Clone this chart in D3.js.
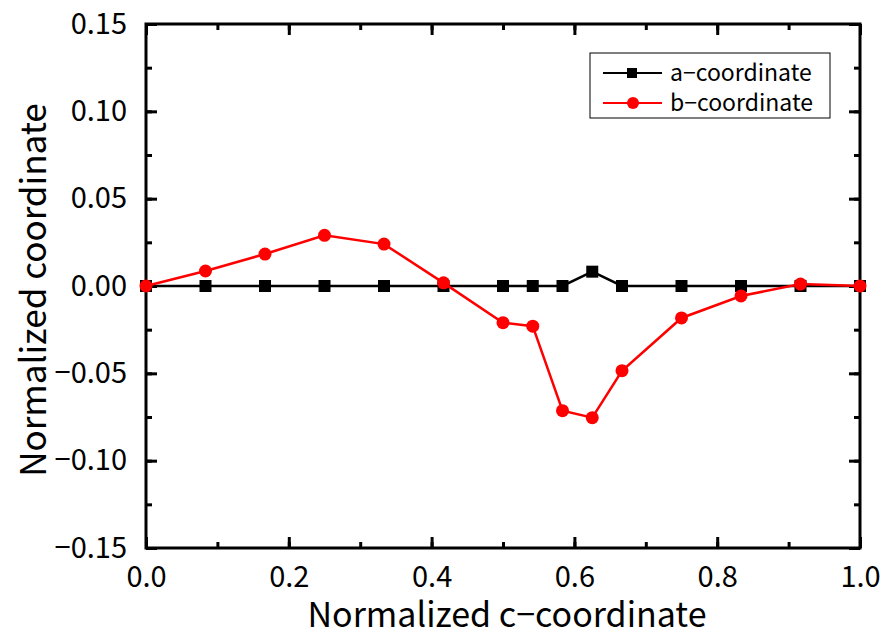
<!DOCTYPE html>
<html>
<head>
<meta charset="utf-8">
<script src="https://cdn.jsdelivr.net/npm/d3@7"></script>
<style>
  body { margin: 0; background: #fff; }
  text { font-family: "Noto Sans CJK JP", "Liberation Sans", sans-serif; fill: #000; }
</style>
</head>
<body>
<script>
// x positions (normalized c-coordinate)
var xVals = [0, 1/12, 2/12, 3/12, 4/12, 5/12, 6/12, 6.5/12, 7/12, 7.5/12, 8/12, 9/12, 10/12, 11/12, 1];
// a-coordinate (black squares)
var aVals = [0, 0, 0, 0, 0, 0, 0, 0, 0, 0.0082, 0, 0, 0, 0, 0];
// b-coordinate (red circles)
var bVals = [0, 0.0086, 0.0183, 0.029, 0.024, 0.0018, -0.021, -0.023, -0.0714, -0.0754, -0.0485, -0.0183, -0.0057, 0.0011, 0];
var seriesNames = ["a\u2212coordinate", "b\u2212coordinate"];
var xTicks = [0, 0.2, 0.4, 0.6, 0.8, 1.0];
var yTicks = [-0.15, -0.10, -0.05, 0, 0.05, 0.10, 0.15];

var width = 887, height = 637;
var margin = {left:146, right:27, top:24, bottom:89};
var w = width - margin.left - margin.right;
var h = height - margin.top - margin.bottom;

var x = d3.scaleLinear().domain([0,1]).range([0,w]);
var y = d3.scaleLinear().domain([-0.15,0.15]).range([h,0]);

var svg = d3.select("body").append("svg")
    .attr("width", width).attr("height", height);

var g = svg.append("g")
    .attr("transform","translate("+margin.left+","+margin.top+")");

var fmt = function(d){ return d3.format(".2f")(d).replace("-", "\u2212"); };

// minor + major ticks, pointing inward on all four sides
function tickAxes(){
  var xMinor = d3.range(0, 1.0001, 0.1);
  var yMinor = d3.range(-0.15, 0.1501, 0.025);
  g.append("g").attr("transform","translate(0,"+h+")")
    .call(d3.axisBottom(x).tickValues(xMinor).tickSize(-6).tickFormat(""));
  g.append("g")
    .call(d3.axisTop(x).tickValues(xMinor).tickSize(-6).tickFormat(""));
  g.append("g")
    .call(d3.axisLeft(y).tickValues(yMinor).tickSize(-6).tickFormat(""));
  g.append("g").attr("transform","translate("+w+",0)")
    .call(d3.axisRight(y).tickValues(yMinor).tickSize(-6).tickFormat(""));

  g.append("g").attr("class","xlab").attr("transform","translate(0,"+h+")")
    .call(d3.axisBottom(x).tickValues(xTicks).tickSize(-11).tickPadding(18).tickFormat(d3.format(".1f")));
  g.append("g")
    .call(d3.axisTop(x).tickValues(xTicks).tickSize(-11).tickFormat(""));
  g.append("g").attr("class","ylab")
    .call(d3.axisLeft(y).tickValues(yTicks).tickSize(-11).tickPadding(19).tickFormat(fmt));
  g.append("g").attr("transform","translate("+w+",0)")
    .call(d3.axisRight(y).tickValues(yTicks).tickSize(-11).tickFormat(""));
}
tickAxes();

g.selectAll(".domain").remove();
g.selectAll(".tick line").attr("stroke","#000").attr("stroke-width",3);
g.selectAll(".xlab text, .ylab text").style("font-size","29px");

// frame
g.append("rect").attr("width", w).attr("height", h)
  .attr("fill","none").attr("stroke","#000").attr("stroke-width",3);

// lines
var aLine = d3.line().x(function(d,i){ return x(xVals[i]); }).y(function(d){ return y(d); });

g.append("path").attr("d", aLine(aVals))
  .attr("fill","none").attr("stroke","#000").attr("stroke-width",2.5);
g.selectAll(".sq").data(aVals).enter().append("rect")
  .attr("x", function(d,i){ return x(xVals[i]) - 6; })
  .attr("y", function(d){ return y(d) - 6; })
  .attr("width",12).attr("height",12).attr("fill","#000");

g.append("path").attr("d", aLine(bVals))
  .attr("fill","none").attr("stroke","#ff0000").attr("stroke-width",2.5);
g.selectAll(".ci").data(bVals).enter().append("circle")
  .attr("cx", function(d,i){ return x(xVals[i]); })
  .attr("cy", function(d){ return y(d); })
  .attr("r",6.5).attr("fill","#ff0000");

// axis titles
svg.append("text")
  .attr("x", margin.left + w/2 + 4).attr("y", 627)
  .attr("text-anchor","middle").style("font-size","34px")
  .text("Normalized c\u2212coordinate");
svg.append("text")
  .attr("transform","translate(46,"+(margin.top + h/2 + 4)+") rotate(-90)")
  .attr("text-anchor","middle").style("font-size","35px")
  .text("Normalized coordinate");

// legend
var leg = svg.append("g").attr("transform","translate(590,53)");
leg.append("rect").attr("width",240).attr("height",65)
  .attr("fill","#fff").attr("stroke","#000").attr("stroke-width",1);
var colors = ["#000","#ff0000"];
seriesNames.forEach(function(name,i){
  var yy = 20 + i*30;
  leg.append("line").attr("x1",13).attr("x2",72).attr("y1",yy).attr("y2",yy)
    .attr("stroke",colors[i]).attr("stroke-width",2);
  if(i==0){
    leg.append("rect").attr("x",37).attr("y",yy-5).attr("width",10).attr("height",10).attr("fill","#000");
  } else {
    leg.append("circle").attr("cx",43).attr("cy",yy).attr("r",6).attr("fill","#ff0000");
  }
  leg.append("text").attr("x",80).attr("y",yy+8).style("font-size","23px").text(name);
});
</script>
</body>
</html>
